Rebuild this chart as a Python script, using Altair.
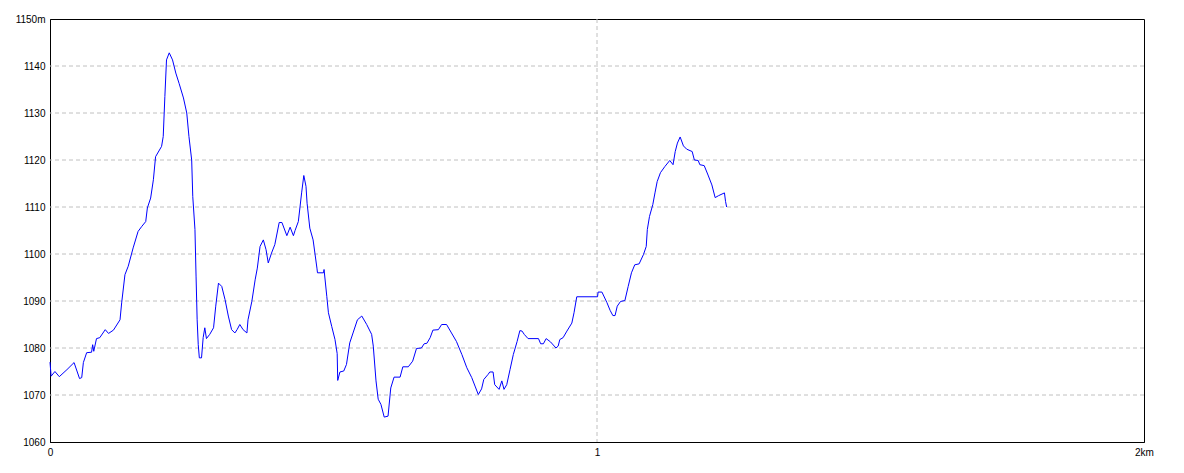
import altair as alt
import pandas as pd

# distance along route (m) and elevation (m)
dist_m = [0, 2, 9, 17, 31, 44, 54, 58, 61, 67, 76, 78, 80, 85, 91, 101, 107, 116, 128, 131,
          137, 143, 152, 161, 168, 175, 178, 184, 189, 193, 204, 207, 210, 213, 218, 224, 230, 236, 244, 250,
          254, 259, 261, 265, 267, 269, 271, 273, 277, 280, 283, 286, 292, 299, 303, 308, 314, 320, 326, 332,
          338, 342, 347, 353, 360, 362, 369, 375, 379, 384, 390, 395, 399, 405, 411, 419, 424, 433, 439, 445,
          448, 454, 460, 464, 468, 470, 475, 481, 488, 489, 500, 501, 506, 509, 515, 521, 525, 526, 530, 537,
          542, 548, 554, 562, 570, 579, 588, 591, 596, 600, 605, 611, 618, 623, 629, 640, 645, 655, 663, 670,
          679, 684, 689, 695, 700, 710, 716, 725, 734, 743, 753, 762, 771, 777, 783, 789, 793, 801, 804, 810,
          813, 821, 826, 830, 835, 841, 847, 854, 859, 863, 867, 874, 893, 897, 902, 907, 915, 925, 929, 932,
          938, 945, 954, 958, 963, 1001, 1002, 1009, 1018, 1024, 1029, 1033, 1037, 1043, 1051, 1057, 1063, 1069, 1077, 1085,
          1090, 1092, 1096, 1102, 1106, 1110, 1116, 1124, 1133, 1139, 1143, 1147, 1152, 1158, 1164, 1174, 1178, 1185, 1188, 1196,
          1203, 1210, 1216, 1222, 1233, 1235, 1237]
elev_m = [1077, 1074.0, 1075.0, 1073.9, 1075.4, 1076.9, 1073.5, 1073.7, 1076.9, 1079, 1079.1, 1080.7, 1079.3, 1082, 1082.2, 1083.9, 1083.1, 1083.8, 1086, 1089.6,
          1095.6, 1097.4, 1101.3, 1104.8, 1105.9, 1106.9, 1109.8, 1111.9, 1115.8, 1120.7, 1122.9, 1125, 1133.5, 1141.3, 1142.8, 1141.3, 1138.5, 1136.3, 1133.2, 1130,
          1125, 1120, 1112.2, 1105.2, 1095.3, 1086, 1080.7, 1077.9, 1077.9, 1082.2, 1084.3, 1082, 1082.9, 1084.3, 1088.9, 1093.8, 1093.1, 1090.3, 1086.8, 1083.9,
          1083.2, 1083.9, 1085, 1083.9, 1083.2, 1086, 1089.9, 1094.5, 1097, 1101.6, 1103, 1100.9, 1098.1, 1100.2, 1102, 1106.7, 1106.7, 1103.9, 1105.7, 1103.9,
          1105, 1106.9, 1113, 1116.7, 1114.4, 1110.8, 1105.5, 1103, 1097, 1096, 1096, 1096.7, 1091, 1087.5, 1084.6, 1081.8, 1078.8, 1073.1, 1074.9, 1075.1,
          1076.5, 1081.1, 1083.2, 1086, 1086.8, 1085, 1082.9, 1080.4, 1073, 1069.1, 1068, 1065.3, 1065.5, 1071.5, 1073.8, 1073.8, 1076, 1076, 1077.2, 1079.9,
          1080, 1080.9, 1081, 1082.2, 1083.8, 1083.9, 1085, 1085, 1083.2, 1081.4, 1078.6, 1075.8, 1073.7, 1071.9, 1070.1, 1071.3, 1073.3, 1074.4, 1074.9, 1074.9,
          1072.2, 1071.2, 1073, 1071.2, 1072.2, 1075.4, 1078.6, 1081.4, 1083.7, 1083.6, 1082.9, 1082, 1082, 1080.9, 1080.9, 1082, 1081.3, 1080, 1080.4, 1081.8,
          1082.2, 1083.6, 1085.3, 1087.5, 1090.9, 1090.9, 1091.9, 1091.9, 1089.7, 1088, 1086.9, 1086.9, 1088.9, 1089.9, 1090.1, 1093.1, 1096, 1097.7, 1097.9, 1099.9,
          1101.6, 1105.2, 1108, 1110.5, 1113, 1115.4, 1117.3, 1118.6, 1119.9, 1119, 1121.8, 1123.6, 1124.9, 1123, 1122.3, 1121.8, 1120, 1119.9, 1119, 1118.8,
          1116.8, 1114.7, 1112, 1112.4, 1113, 1111.2, 1110]

y_ticks = [1060, 1070, 1080, 1090, 1100, 1110, 1120, 1130, 1140, 1150]
x_ticks = [0, 1000, 2000]
y_grid = [1070, 1080, 1090, 1100, 1110, 1120, 1130, 1140]
x_grid = [1000]

df = pd.DataFrame({"d": dist_m, "e": elev_m})
FONT = "Liberation Sans"

xs = alt.Scale(domain=[0, 2000], nice=False, zero=False)
ys = alt.Scale(domain=[1060, 1150], nice=False, zero=False)

ax_x = alt.Axis(values=x_ticks, grid=False, ticks=False, domainColor="black", domainWidth=1,
                labelExpr="datum.value == 0 ? '0' : (datum.value == 1000 ? '1' : '2km')",
                labelAlign="center", labelFlush=False, labelPadding=5,
                labelFont=FONT, labelFontSize=10, labelColor="black")
ax_y = alt.Axis(values=y_ticks, grid=False, ticks=False, domainColor="black", domainWidth=1,
                format="d",
                labelExpr="datum.value == 1150 ? '1150m' : '' + datum.value",
                labelPadding=5, labelFont=FONT, labelFontSize=10, labelColor="black")

grid_style = dict(color="#c0c0c0", strokeDash=[4, 3], strokeWidth=1)

line = alt.Chart(df).mark_line(color="#0000ff", strokeWidth=1, interpolate="linear").encode(
    x=alt.X("d:Q", scale=xs, title=None, axis=ax_x),
    y=alt.Y("e:Q", scale=ys, title=None, axis=ax_y),
)
hgrid = alt.Chart(pd.DataFrame({"g": y_grid})).mark_rule(**grid_style).encode(
    y=alt.Y("g:Q", scale=ys, title=None, axis=ax_y)
)
vgrid = alt.Chart(pd.DataFrame({"g": x_grid})).mark_rule(**grid_style).encode(
    x=alt.X("g:Q", scale=xs, title=None, axis=ax_x)
)

chart = alt.layer(hgrid, vgrid, line).properties(
    width=1094, height=423,
    background="white",
    autosize=alt.AutoSizeParams(type="none"),
    padding={"left": 42, "top": 11, "right": 30, "bottom": 23},
).configure_view(stroke="black", strokeWidth=1)

chart.save("out.html", embed_options={"renderer": "svg", "actions": False})
